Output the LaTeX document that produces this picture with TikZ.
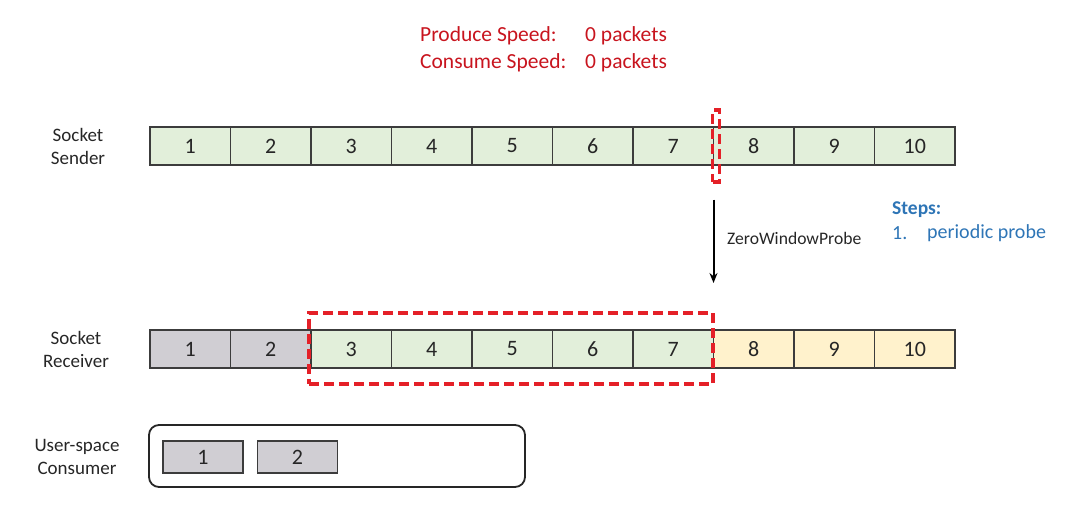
\documentclass[tikz,border=0pt]{standalone}
\usepackage{fontspec}
\setmainfont{Carlito}
\usetikzlibrary{arrows.meta}
\definecolor{cgreen}{RGB}{226,239,218}
\definecolor{cgray}{RGB}{208,206,211}
\definecolor{cyellow}{RGB}{255,242,204}
\definecolor{cborder}{RGB}{60,60,60}
\definecolor{cred}{RGB}{200,20,30}
\definecolor{cdash}{RGB}{228,32,40}
\definecolor{cblue}{RGB}{46,117,182}
\definecolor{ctext}{RGB}{38,38,38}
\tikzset{
  cell/.style={draw=cborder, line width=1.3pt, minimum width=80.5pt, minimum height=38pt, inner sep=0pt, text=ctext, font=\fontsize{22}{26}\selectfont},
  rowlabel/.style={align=center, font=\fontsize{19}{23}\selectfont, text=ctext},
  redtext/.style={anchor=west, text=cred, font=\fontsize{21.5}{25}\selectfont, inner sep=0pt},
  reddash/.style={draw=cdash, line width=3.2pt, dash pattern=on 10pt off 5pt, inner sep=0pt},
  small/.style={draw=cborder, line width=1.3pt, fill=cgray, minimum width=80pt, minimum height=32pt, inner sep=0pt, text=ctext, font=\fontsize{22}{26}\selectfont},
}
\begin{document}
\begin{tikzpicture}[x=1pt,y=-1pt]
\useasboundingbox (0,0) rectangle (1080,517);
% top red text
\node[redtext] (ps) at (420,36) {Produce Speed:};
\node[redtext] (psv) at (585,36) {0 packets};
\node[redtext] (cs) at (420,63) {Consume Speed:};
\node[redtext] (csv) at (585,63) {0 packets};
% row labels
\node[rowlabel] (lsend) at (78,146) {Socket\\Sender};
\node[rowlabel] (lrecv) at (76,349) {Socket\\Receiver};
\node[rowlabel] (lcons) at (77,457) {User-space\\Consumer};
% sender row
\foreach \i in {1,...,10} {
  \node[cell, fill=cgreen] (s\i) at ({150+80.5*(\i-0.5)},146) {\i};
}
% receiver row
\foreach \i in {1,2} {
  \node[cell, fill=cgray] (r\i) at ({150+80.5*(\i-0.5)},349) {\i};
}
\foreach \i in {3,...,7} {
  \node[cell, fill=cgreen] (r\i) at ({150+80.5*(\i-0.5)},349) {\i};
}
\foreach \i in {8,9,10} {
  \node[cell, fill=cyellow] (r\i) at ({150+80.5*(\i-0.5)},349) {\i};
}
% dashed boxes
\node[reddash, minimum width=7pt, minimum height=72pt] (sdash) at (716,146) {};
\node[reddash, minimum width=404pt, minimum height=71pt] (rdash) at (511,348.5) {};
% arrow
\coordinate (aend) at (713.5,283);
\draw[line width=2pt, -{Stealth[length=10pt,width=8pt]}, shorten <=16pt] (sdash.south -| aend) -- (aend);
\node[anchor=west, font=\fontsize{17.6}{21}\selectfont, text=ctext, inner sep=0pt] (zwp) at (727,238) {ZeroWindowProbe};
% steps
\node[anchor=west, font=\bfseries\fontsize{19.5}{23}\selectfont, text=cblue, inner sep=0pt] (steps) at (892,210) {Steps:};
\node[anchor=west, font=\fontsize{20}{23}\selectfont, text=cblue, inner sep=0pt] (step1) at (892,233) {1.};
\node[anchor=west, font=\fontsize{20}{23}\selectfont, text=cblue, inner sep=0pt] (step1t) at (927,233) {periodic probe};
% consumer
\node[draw=black!85, line width=1.8pt, rounded corners=10pt, minimum width=376pt, minimum height=62pt, inner sep=0pt] (cons) at (337,456) {};
\node[small] (c1) at (203,457) {1};
\node[small] (c2) at (297.5,457) {2};
\end{tikzpicture}
\end{document}
